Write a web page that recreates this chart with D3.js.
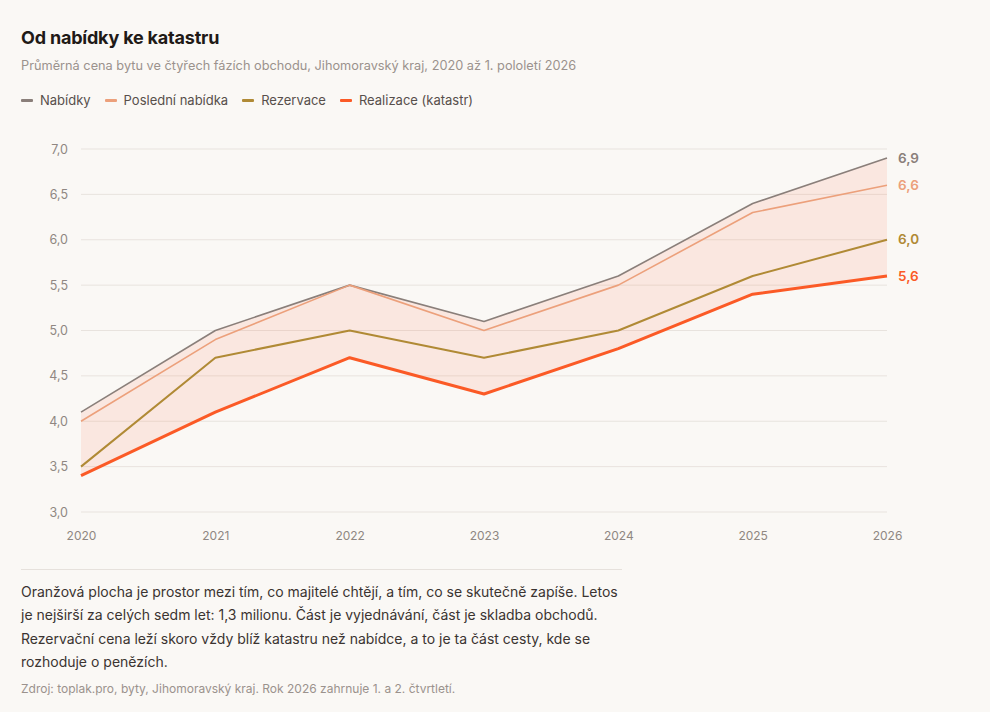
<!DOCTYPE html>
<html>
<head>
<meta charset="UTF-8">
<script src="https://d3js.org/d3.v7.min.js"></script>
<style>
  body {
    margin: 0;
    background: #faf8f5;
    font-family: Inter, 'Noto Sans', sans-serif;
    width: 990px;
    height: 712px;
    position: relative;
    overflow: hidden;
  }
  h1 {
    position: absolute;
    left: 21px;
    top: 27px;
    margin: 0;
    font-size: 18px;
    font-weight: 700;
    color: #1f1a17;
    letter-spacing: -0.2px;
  }
  .sub {
    position: absolute;
    left: 21px;
    top: 58px;
    font-size: 12.75px;
    color: #9b928d;
  }
  #legend {
    position: absolute;
    left: 21px;
    top: 92px;
    font-size: 13px;
    color: #574f4b;
    display: flex;
  }
  #legend span.item { margin-right: 14px; display: flex; align-items: center; }
  #legend span.sw { display: inline-block; width: 12px; height: 3px; margin-right: 7px; border-radius: 1px; }
  svg { position: absolute; left: 0; top: 0; }
  .rule {
    position: absolute;
    left: 21px;
    top: 569px;
    width: 601px;
    border-top: 1px solid #e6e1dc;
  }
  .note {
    position: absolute;
    left: 21px;
    top: 580px;
    width: 604px;
    font-size: 14px;
    line-height: 23.3px;
    color: #3b3431;
  }
  .src {
    position: absolute;
    left: 21px;
    top: 681px;
    font-size: 12px;
    color: #9b928d;
  }
  .tick text { font-family: Inter, 'Noto Sans', sans-serif; }
</style>
</head>
<body>
<h1>Od nabídky ke katastru</h1>
<div class="sub">Průměrná cena bytu ve čtyřech fázích obchodu, Jihomoravský kraj, 2020 až 1. pololetí 2026</div>
<div id="legend"></div>
<svg id="chart" width="990" height="560"></svg>
<div class="rule"></div>
<div class="note">Oranžová plocha je prostor mezi tím, co majitelé chtějí, a tím, co se skutečně zapíše. Letos je nejširší za celých sedm let: 1,3 milionu. Část je vyjednávání, část je skladba obchodů. Rezervační cena leží skoro vždy blíž katastru než nabídce, a to je ta část cesty, kde se rozhoduje o penězích.</div>
<div class="src">Zdroj: toplak.pro, byty, Jihomoravský kraj. Rok 2026 zahrnuje 1. a 2. čtvrtletí.</div>
<script>
  var years = [2020, 2021, 2022, 2023, 2024, 2025, 2026];
  var nabidky = [4.1, 5.0, 5.5, 5.1, 5.6, 6.4, 6.9];
  var posledni = [4.0, 4.9, 5.5, 5.0, 5.5, 6.3, 6.6];
  var rezervace = [3.5, 4.7, 5.0, 4.7, 5.0, 5.6, 6.0];
  var realizace = [3.4, 4.1, 4.7, 4.3, 4.8, 5.4, 5.6];
  var yTicks = [3.0, 3.5, 4.0, 4.5, 5.0, 5.5, 6.0, 6.5, 7.0];

  var series = [
    { name: "Nabídky", values: nabidky, color: "#8a7f7a", width: 1.6 },
    { name: "Poslední nabídka", values: posledni, color: "#eca07b", width: 1.6 },
    { name: "Rezervace", values: rezervace, color: "#b08a35", width: 2 },
    { name: "Realizace (katastr)", values: realizace, color: "#fb5a26", width: 3 }
  ];

  // legend
  var legend = d3.select("#legend");
  series.forEach(function (s) {
    var it = legend.append("span").attr("class", "item");
    it.append("span").attr("class", "sw").style("background", s.color);
    it.append("span").text(s.name);
  });

  var plotLeft = 81, plotRight = 887, plotTop = 149, plotBottom = 512;
  var x = d3.scaleLinear().domain([2020, 2026]).range([plotLeft, plotRight]);
  var y = d3.scaleLinear().domain([3, 7]).range([plotBottom, plotTop]);
  var fmt = function (v) { return d3.format(".1f")(v).replace(".", ","); };

  var svg = d3.select("#chart");

  // grid
  svg.append("g").selectAll("line").data(yTicks).enter().append("line")
    .attr("x1", plotLeft).attr("x2", plotRight)
    .attr("y1", function (d) { return y(d); }).attr("y2", function (d) { return y(d); })
    .attr("stroke", "#e8e3de").attr("stroke-width", 1);

  // y axis
  var yAxis = svg.append("g")
    .attr("transform", "translate(" + plotLeft + ",0)")
    .call(d3.axisLeft(y).tickValues(yTicks).tickFormat(fmt).tickSize(0).tickPadding(13));
  yAxis.select(".domain").remove();
  yAxis.selectAll("text").attr("fill", "#8f8782").style("font-size", "12.5px");

  // x axis
  var xAxis = svg.append("g")
    .attr("transform", "translate(0," + plotBottom + ")")
    .call(d3.axisBottom(x).tickValues(years).tickFormat(d3.format("d")).tickSize(0).tickPadding(19));
  xAxis.select(".domain").remove();
  xAxis.selectAll("text").attr("fill", "#8f8782").style("font-size", "12px");

  // area between offer and cadastre
  var area = d3.area()
    .x(function (d, i) { return x(years[i]); })
    .y0(function (d, i) { return y(realizace[i]); })
    .y1(function (d, i) { return y(nabidky[i]); });
  svg.append("path").datum(years).attr("d", area)
    .attr("fill", "#fb5a26").attr("fill-opacity", 0.1);

  var line = d3.line()
    .x(function (d, i) { return x(years[i]); })
    .y(function (d) { return y(d); });

  series.forEach(function (s) {
    svg.append("path").datum(s.values).attr("d", line)
      .attr("fill", "none").attr("stroke", s.color)
      .attr("stroke-width", s.width).attr("stroke-linejoin", "round");
    svg.append("text")
      .attr("x", plotRight + 11)
      .attr("y", y(s.values[s.values.length - 1]))
      .attr("dy", "0.35em")
      .attr("fill", s.color)
      .style("font-size", "13.5px").style("font-weight", 600)
      .text(fmt(s.values[s.values.length - 1]));
  });
</script>
</body>
</html>
